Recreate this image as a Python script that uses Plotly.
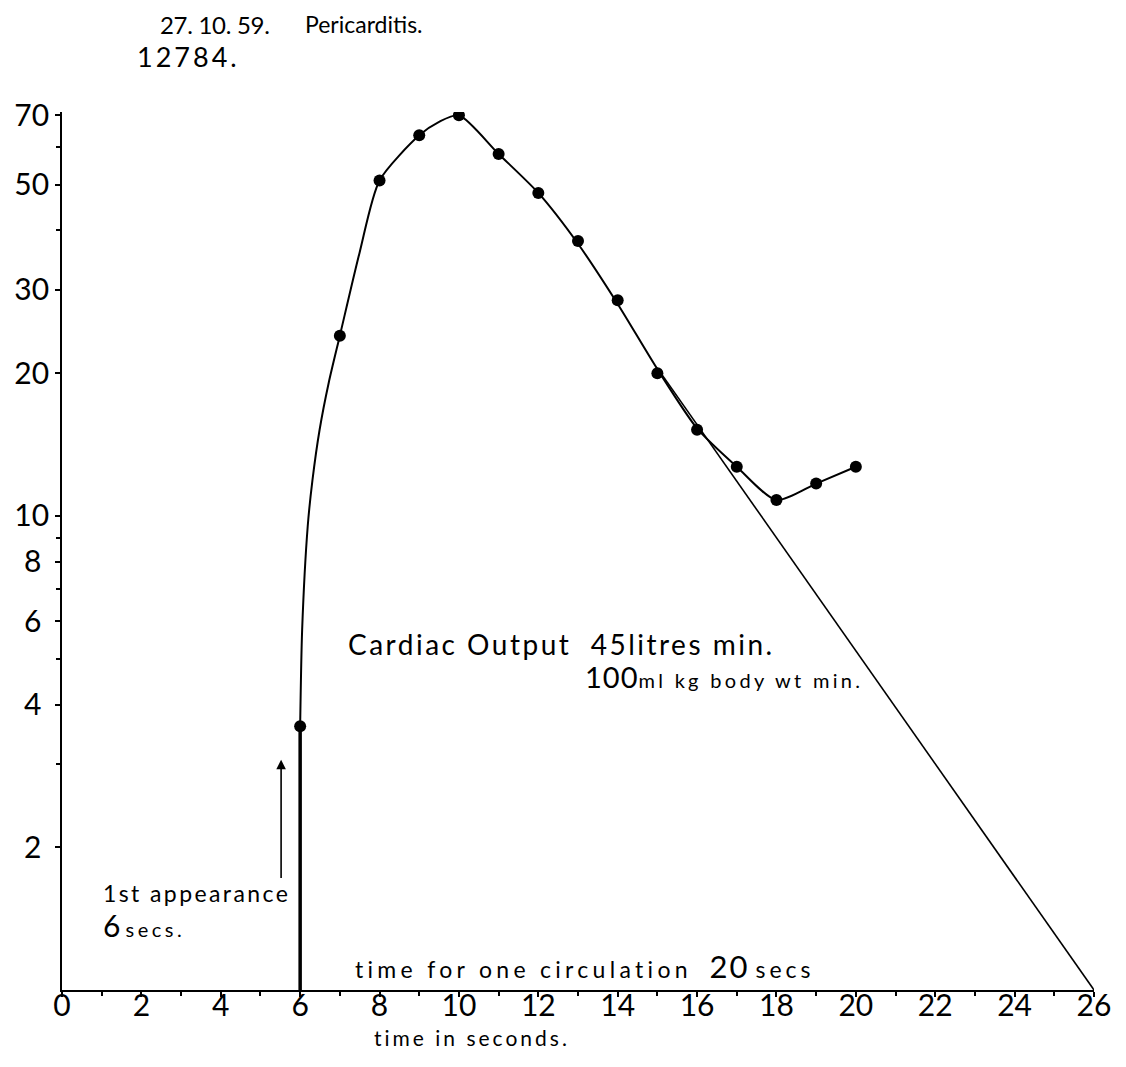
import math
import plotly.graph_objects as go

# ---- data ----
time_s = [6, 7, 8, 9, 10, 11, 12, 13, 14, 15, 16, 17, 18, 19, 20]
conc = [3.6, 24, 51, 63.5, 70, 58, 48, 38, 28.5, 20, 15.2, 12.7, 10.8, 11.7, 12.7]

# hand-drawn smooth curve through the observations
curve_x = [6.0, 6.05, 6.19, 6.31, 6.49, 6.72, 7, 7.5, 8, 9, 9.5, 10, 11, 12, 13, 14, 15, 16, 17, 18, 19, 20]
curve_y = [3.6, 5.75, 9.5, 11.9, 15.2, 19.1, 24, 36, 51, 63.5, 67.8, 70, 58, 48, 37.5, 28, 20.4, 15.3, 12.7, 10.8, 11.7, 12.7]

# first appearance (vertical line)
onset_x = [6, 6]
onset_y = [1, 3.6]

# exponential extrapolation of the down-slope
extrap_x = [15, 26]
extrap_y = [20.5, 1]

x_ticks = list(range(0, 27, 2))
x_minor = list(range(1, 27, 2))
y_ticks = [2, 4, 6, 8, 10, 20, 30, 50, 70]
y_minor = [3, 5, 7, 9, 40, 60]

FONT = "Lato"
W, H = 1126, 1067
L, R, T, B = 62, 32, 112, 77
PW, PH = W - L - R, H - T - B


def P(px, py):
    return dict(x=(px - L) / PW, y=(H - B - py) / PH, xref="paper", yref="paper")


fig = go.Figure()
fig.add_trace(go.Scatter(x=onset_x, y=onset_y, mode="lines",
                         line=dict(color="black", width=3.5), showlegend=False))
fig.add_trace(go.Scatter(x=extrap_x, y=extrap_y, mode="lines",
                         line=dict(color="black", width=1.6), showlegend=False))
fig.add_trace(go.Scatter(x=curve_x, y=curve_y, mode="lines",
                         line=dict(color="black", width=2, shape="spline", smoothing=0.7),
                         showlegend=False))
fig.add_trace(go.Scatter(x=time_s, y=conc, mode="markers",
                         marker=dict(color="black", size=12), showlegend=False))

ann = []


def sp(s, ls):
    return "<span style='letter-spacing:%spx'>%s</span>" % (ls, s)


def text(px, py, s, size, xanchor="left"):
    d = P(px, py)
    d.update(text=s, showarrow=False, xanchor=xanchor, yanchor="middle",
             font=dict(family=FONT, size=size, color="black"))
    ann.append(d)


text(158, 24, sp("27. 10. 59.", -0.3), 24)
text(303, 24, sp("Pericarditis.", 0), 23)
text(135, 56, sp("12784.", 3), 27)
text(346, 644, sp("Cardiac Output\u00a0\u00a045litres min.", 2.5), 28)
text(583, 676, "<span style='font-size:29px;letter-spacing:1px'>100</span>"
     + sp("ml kg body wt min.", 3.3), 20)
text(101, 893, sp("1st appearance", 2.4), 23)
text(101, 925, "<span style='font-size:30px'>6</span>\u00a0" + sp("secs.", 3.5), 20)
text(353, 966, sp("time for one circulation", 4.3) + "\u00a0\u00a0\u00a0"
     + "<span style='font-size:31px;letter-spacing:2px'>20</span>\u00a0" + sp("secs", 4), 23)
text(472, 1037, sp("time in seconds.", 3), 21, xanchor="center")

ann.append(dict(x=5.52, y=math.log10(3.06), ax=5.52, ay=math.log10(1.71),
                xref="x", yref="y", axref="x", ayref="y", text="", showarrow=True,
                arrowhead=2, arrowsize=1.2, arrowwidth=1.6, arrowcolor="black"))

fig.update_layout(
    width=W, height=H,
    margin=dict(l=L, r=R, t=T, b=B),
    paper_bgcolor="white", plot_bgcolor="white",
    font=dict(family=FONT, color="black"),
    annotations=ann,
    showlegend=False,
)
fig.update_xaxes(range=[0, 26], tickmode="array", tickvals=x_ticks,
                 ticktext=[str(v) for v in x_ticks], ticks="outside", ticklen=5,
                 tickwidth=1.5, tickcolor="black", ticklabelstandoff=-17,
                 minor=dict(tickmode="array", tickvals=x_minor, ticks="outside",
                            ticklen=4, tickwidth=1.5, tickcolor="black"),
                 showline=True, linecolor="black", linewidth=1.8,
                 showgrid=False, zeroline=False,
                 tickfont=dict(family=FONT, size=30, color="black"))
fig.update_yaxes(type="log", range=[0, 1.852], tickmode="array", tickvals=y_ticks,
                 ticktext=[(str(v) + "\u00a0") if v < 10 else str(v) for v in y_ticks],
                 ticks="outside", ticklen=5,
                 tickwidth=1.5, tickcolor="black",
                 minor=dict(tickmode="array", tickvals=y_minor, ticks="outside",
                            ticklen=4, tickwidth=1.5, tickcolor="black"),
                 showline=True, linecolor="black", linewidth=1.8,
                 showgrid=False, zeroline=False,
                 tickfont=dict(family=FONT, size=30, color="black"))

fig.write_html("out.html")
